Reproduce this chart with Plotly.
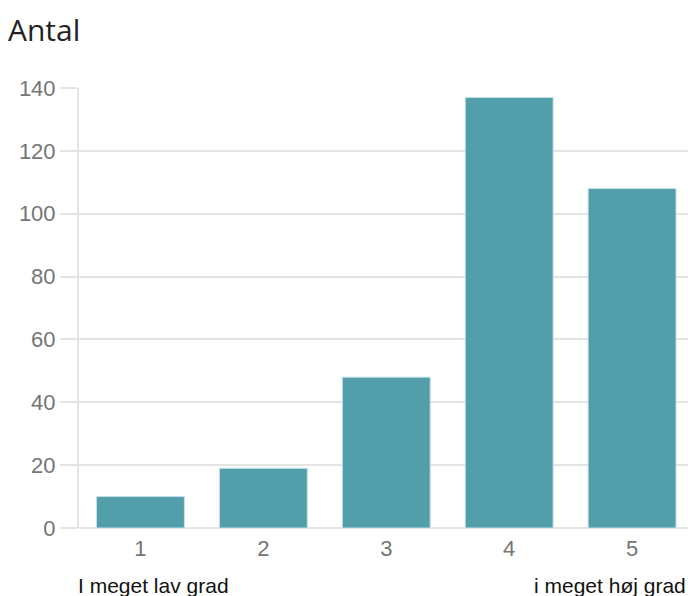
import plotly.graph_objects as go

categories = ["1", "2", "3", "4", "5"]
values = [10, 19, 48, 137, 108]
y_ticks = [0, 20, 40, 60, 80, 100, 120, 140]
title_text = "Antal"
low_label = "I meget lav grad"
high_label = "i meget høj grad"

W, H = 688, 596
ML, MR, MT, MB = 79, 0, 88, 68

fig = go.Figure(
    go.Bar(
        x=list(range(len(categories))),
        y=values,
        marker=dict(color="#529FAB", line=dict(color="#c4e1e6", width=1)),
        width=0.715,
        hoverinfo="skip",
    )
)

grid = "#e4e4e4"
fig.update_layout(
    width=W,
    height=H,
    margin=dict(l=ML, r=MR, t=MT, b=MB, pad=0),
    plot_bgcolor="white",
    paper_bgcolor="white",
    showlegend=False,
    font=dict(family="Liberation Sans, Arial, sans-serif", color="#757575"),
    xaxis=dict(
        tickmode="array",
        tickvals=list(range(len(categories))),
        ticktext=categories,
        range=[-0.5, 4.455],
        showgrid=False,
        zeroline=False,
        showline=False,
        ticks="",
        ticklabelstandoff=5,
        tickfont=dict(size=22, color="#757575"),
        fixedrange=True,
    ),
    yaxis=dict(
        range=[0, 140],
        tickvals=y_ticks,
        showgrid=True,
        gridcolor=grid,
        gridwidth=2,
        zeroline=True,
        zerolinecolor=grid,
        zerolinewidth=2,
        showline=True,
        linecolor=grid,
        linewidth=2,
        ticks="outside",
        ticklen=17,
        tickwidth=2,
        tickcolor=grid,
        tickfont=dict(size=22, color="#757575"),
        fixedrange=True,
    ),
    annotations=[
        dict(
            text=title_text, xref="paper", yref="paper",
            x=-ML / (W - ML - MR) + 6 / (W - ML - MR), y=1 + 58 / (H - MT - MB),
            xanchor="left", yanchor="middle", showarrow=False,
            font=dict(family="Open Sans, Noto Sans, sans-serif", size=30, color="#222222"),
        ),
        dict(
            text=low_label, xref="paper", yref="paper",
            x=0, y=-57 / (H - MT - MB), xanchor="left", yanchor="middle",
            showarrow=False, xshift=-3,
            font=dict(family="Liberation Sans, Arial, sans-serif", size=21, color="#111111"),
        ),
        dict(
            text=high_label, xref="paper", yref="paper",
            x=1, y=-57 / (H - MT - MB), xanchor="right", yanchor="middle",
            showarrow=False, xshift=0,
            font=dict(family="Liberation Sans, Arial, sans-serif", size=21, color="#111111"),
        ),
    ],
)

fig.write_html(
    "out.html",
    config={"displayModeBar": False},
    post_script="document.body.style.margin='0';document.body.style.overflow='hidden';",
)
